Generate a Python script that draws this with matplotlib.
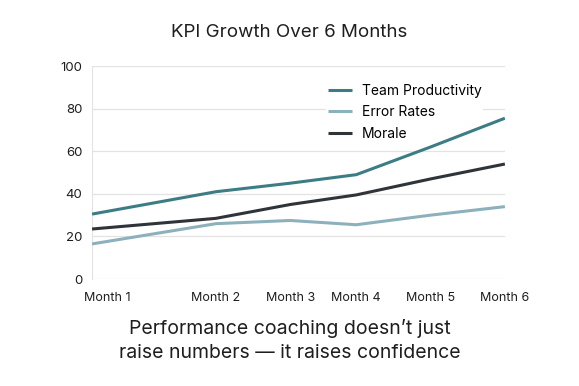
import matplotlib
matplotlib.use("Agg")
import matplotlib.pyplot as plt
from matplotlib.transforms import ScaledTranslation

plt.rcParams["font.family"] = ["Inter", "DejaVu Sans"]

months = ["Month 1", "Month 2", "Month 3", "Month 4", "Month 5", "Month 6"]
month_pos = [0, 1.5, 2.4, 3.2, 4.1, 5]          # uneven spacing as in the reference
productivity = [30.5, 41, 45, 49, 62, 75.5]
error_rates = [16.5, 26, 27.5, 25.5, 30, 34]
morale = [23.5, 28.5, 35, 39.5, 47, 54]

fig = plt.figure(figsize=(5.79, 3.86), dpi=100)
fig.patch.set_facecolor("white")
ax = fig.add_axes([0.159, 0.277, 0.713, 0.552])

ax.plot(month_pos, productivity, color="#3c7d85", lw=2.2, label="Team Productivity", solid_capstyle="butt", zorder=3)
ax.plot(month_pos, error_rates, color="#8db1bc", lw=2.2, label="Error Rates", solid_capstyle="butt", zorder=3)
ax.plot(month_pos, morale, color="#2f3439", lw=2.2, label="Morale", solid_capstyle="butt", zorder=3)

ax.set_xlim(0, 5)
ax.set_ylim(0, 100)
ax.set_yticks(range(0, 101, 20))
ax.set_xticks(month_pos)
ax.set_xticklabels(months)
ax.tick_params(length=0, labelsize=9.5, colors="#1e1e1e")
ax.tick_params(axis="x", pad=9, labelsize=9)
ax.tick_params(axis="y", pad=7)
# first month label sits a little right of the axis edge in the reference
lab0 = ax.get_xticklabels()[0]
lab0.set_transform(lab0.get_transform() + ScaledTranslation(15 / 100, 0, fig.dpi_scale_trans))
ax.grid(axis="y", color="#e3e3e3", lw=0.9)
ax.set_axisbelow(True)
for s in ["top", "right", "bottom"]:
    ax.spines[s].set_visible(False)
ax.spines["left"].set_color("#e3e3e3")

leg = ax.legend(loc="upper right", bbox_to_anchor=(0.965, 0.96), frameon=True, fontsize=10,
                handlelength=1.7, handletextpad=0.7, labelspacing=0.55, borderpad=0.15)
leg.get_frame().set_edgecolor("none")
leg.get_frame().set_facecolor("white")
leg.get_frame().set_alpha(1)
leg.set_zorder(2)

fig.text(0.5, 0.915, "KPI Growth Over 6 Months", ha="center", va="center", fontsize=13.5, color="#1e1e1e")
fig.text(0.5, 0.118, "Performance coaching doesn\u2019t just\nraise numbers \u2014 it raises confidence",
         ha="center", va="center", fontsize=14, color="#1e1e1e", linespacing=1.4)

fig.savefig("out.png", dpi=100)
